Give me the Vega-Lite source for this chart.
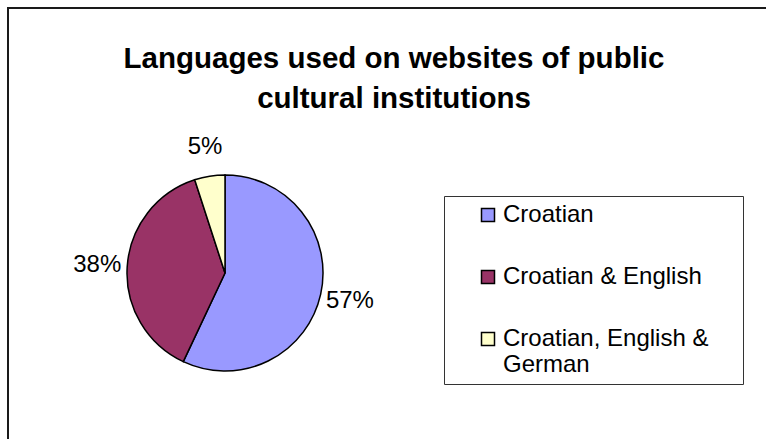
{
  "$schema": "https://vega.github.io/schema/vega-lite/v6.json",
  "autosize": {"type": "pad"},
  "padding": {"left": 7, "top": 7, "right": 0, "bottom": 0},
  "background": "white",
  "title": {
    "text": ["Languages used on websites of public", "cultural institutions"],
    "font": "Liberation Sans",
    "fontSize": 29.5,
    "fontWeight": "bold",
    "color": "black",
    "lineHeight": 40,
    "anchor": "start",
    "align": "center",
    "frame": "group",
    "baseline": "top",
    "offset": 0,
    "dx": 386,
    "dy": 107
  },
  "spacing": 0,
  "bounds": "flush",
  "vconcat": [
    {
      "width": 759,
      "height": 98,
      "view": {"stroke": "#1a1a1a", "strokeWidth": 2, "strokeDash": [759, 857, 200]},
      "data": {"values": []},
      "mark": {"type": "text"},
      "encoding": {}
    },
    {
      "width": 434,
      "height": 334,
      "view": {"stroke": "#1a1a1a", "strokeWidth": 2, "strokeDash": [0, 1200, 400]},
      "data": {
        "values": [
          {"language": "Croatian", "share": 0.57},
          {"language": "Croatian & English", "share": 0.38},
          {"language": "Croatian, English & German", "share": 0.05}
        ]
      },
      "encoding": {
        "theta": {"field": "share", "type": "quantitative", "stack": true},
        "order": {"field": "share", "type": "quantitative", "sort": "descending"},
        "color": {
          "field": "language",
          "type": "nominal",
          "scale": {
            "domain": ["Croatian", "Croatian & English", "Croatian, English & German"],
            "range": ["#9999FF", "#993366", "#FFFFCC"]
          },
          "legend": {
            "orient": "none",
            "legendX": 436,
            "legendY": 188,
            "title": "\u00a0",
            "titleOrient": "right",
            "titlePadding": 28,
            "titleFontSize": 24,
            "strokeColor": "#333333",
            "fillColor": "white",
            "padding": 7,
            "symbolOffset": 25,
            "symbolType": "square",
            "symbolSize": 169,
            "symbolStrokeColor": "black",
            "symbolStrokeWidth": 1.5,
            "symbolOpacity": 1,
            "labelFont": "Liberation Sans",
            "labelFontSize": 24,
            "labelColor": "black",
            "labelOffset": 3,
            "labelLimit": 400,
            "rowPadding": 38,
            "labelExpr": "datum.label == 'Croatian, English & German' ? ['Croatian, English &', 'German'] : datum.label"
          }
        }
      },
      "layer": [
        {
          "mark": {"type": "arc", "outerRadius": 98, "stroke": "black", "strokeWidth": 1.5}
        },
        {
          "mark": {"type": "text", "radius": 128, "font": "Liberation Sans", "fontSize": 24, "align": "center", "baseline": "middle", "stroke": null},
          "encoding": {
            "text": {"field": "share", "type": "quantitative", "format": ".0%"},
            "fill": {"value": "black"}
          }
        }
      ]
    }
  ]
}
